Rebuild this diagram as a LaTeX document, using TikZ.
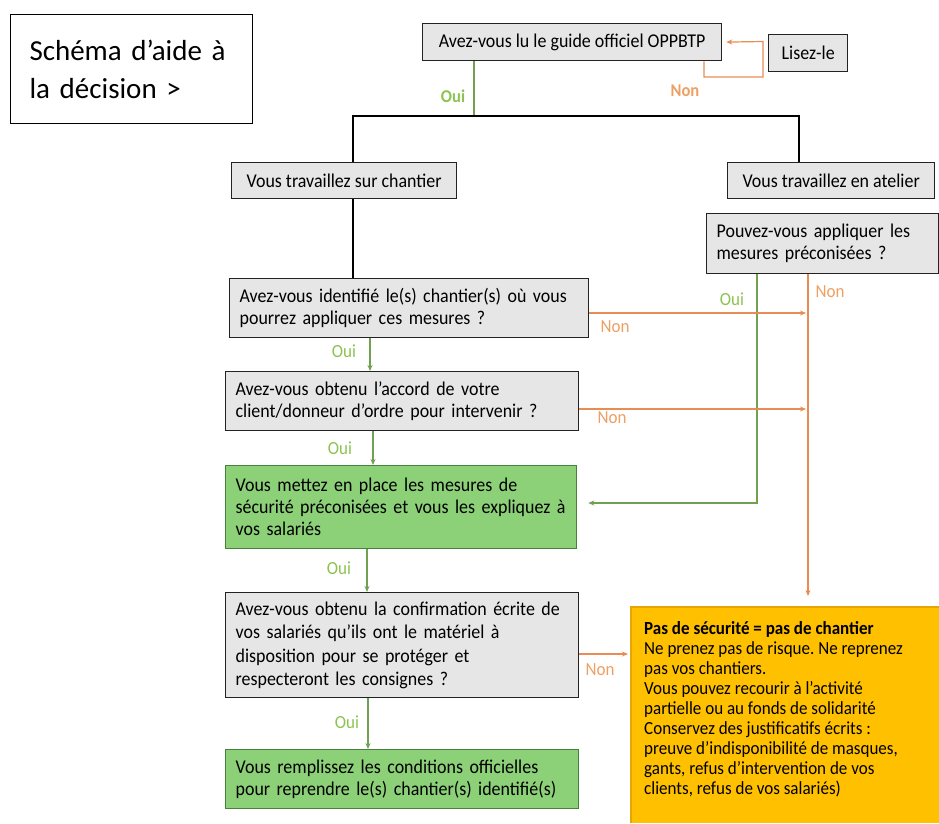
\documentclass[tikz,border=0pt]{standalone}
\usepackage{fontspec}
\setmainfont{Carlito}[FakeStretch=0.92]
\newfontfamily\titlefont{Carlito}
\usetikzlibrary{arrows.meta}
\definecolor{grayfill}{RGB}{231,230,230}
\definecolor{boxline}{RGB}{35,35,35}
\definecolor{greenfill}{RGB}{140,208,120}
\definecolor{greenline}{RGB}{70,130,60}
\definecolor{orangefill}{RGB}{255,192,0}
\definecolor{orangeborder}{RGB}{230,165,0}
\definecolor{ouicol}{RGB}{140,195,80}
\definecolor{noncol}{RGB}{238,160,100}
\definecolor{gconn}{RGB}{112,160,80}
\definecolor{oconn}{RGB}{232,140,85}
\begin{document}
\frenchspacing
\begin{tikzpicture}[x=1pt,y=-1pt,
  bx/.style={draw=boxline, fill=grayfill, line width=1.3pt, anchor=north west, align=left, inner xsep=10pt, inner ysep=0pt, font=\fontsize{19.5}{22}\selectfont},
  gbx/.style={bx, fill=greenfill, draw=greenline},
  gc/.style={draw=gconn, line width=1.2pt},
  gca/.style={gc, -{Stealth[length=6pt,width=5pt]}},
  oc/.style={draw=oconn, line width=1.2pt},
  oca/.style={oc, -{Stealth[length=6pt,width=5pt]}},
  blk/.style={draw=black, line width=1.3pt},
  oui/.style={text=ouicol, font=\fontsize{18.5}{20}\selectfont},
  non/.style={text=noncol, font=\fontsize{18.5}{20}\selectfont},
  ouib/.style={text=ouicol, font=\fontsize{18}{20}\selectfont\bfseries},
  nonb/.style={text=noncol, font=\fontsize{18}{20}\selectfont\bfseries},
]
\fill[white] (0,0) rectangle (939,823);
\useasboundingbox (0,0) rectangle (939,823);

% boxes
\node[bx, fill=white, draw=black, line width=1pt, inner xsep=19pt, minimum width=242pt, minimum height=109pt, text width=204pt, font=\titlefont\fontsize{29}{38}\selectfont] (title) at (10,14) {Schéma d’aide à\\la décision >};
\node[bx, align=center, minimum width=299pt, minimum height=37pt] (top) at (422,23) {Avez-vous lu le guide officiel OPPBTP};
\node[bx, align=center, minimum width=79pt, minimum height=37pt] (lisez) at (768,34) {Lisez-le};
\node[bx, align=center, minimum width=225pt, minimum height=36pt] (chantier) at (231,162) {Vous travaillez sur chantier};
\node[bx, align=center, minimum width=207pt, minimum height=36pt] (atelier) at (727,162) {Vous travaillez en atelier};
\node[bx, minimum width=232pt, minimum height=60pt, text width=212pt] (pouvez) at (706,213) {Pouvez-vous appliquer les\\mesures préconisées ?};
\node[bx, minimum width=359pt, minimum height=59pt, text width=339pt] (q1) at (229,278) {Avez-vous identifié le(s) chantier(s) où vous\\pourrez appliquer ces mesures ?};
\node[bx, minimum width=353pt, minimum height=59pt, text width=333pt] (q2) at (225,371) {Avez-vous obtenu l’accord de votre\\client/donneur d’ordre pour intervenir ?};
\node[gbx, minimum width=351pt, minimum height=83pt, text width=331pt] (g1) at (225,465) {Vous mettez en place les mesures de\\sécurité préconisées et vous les expliquez à\\vos salariés};
\node[bx, minimum width=353pt, minimum height=105pt, text width=333pt, font=\fontsize{19.5}{23.5}\selectfont] (q3) at (225,592) {Avez-vous obtenu la confirmation écrite de\\vos salariés qu’ils ont le matériel à\\disposition pour se protéger et\\respecteront les consignes ?};
\node[gbx, minimum width=353pt, minimum height=59pt, text width=333pt] (g2) at (225,749) {Vous remplissez les conditions officielles\\pour reprendre le(s) chantier(s) identifié(s)};
\node[anchor=north west, fill=orangefill, minimum width=308pt, minimum height=216pt, inner xsep=13pt, inner ysep=0pt, font=\fontsize{18.5}{19.9}\selectfont] (orng) at (631,607) {\raisebox{6pt}[\height][\depth]{\parbox{282pt}{\raggedright\textbf{Pas de sécurité = pas de chantier}\\Ne prenez pas de risque. Ne reprenez\\pas vos chantiers.\\Vous pouvez recourir à l’activité\\partielle ou au fonds de solidarité\\Conservez des justificatifs écrits :\\preuve d’indisponibilité de masques,\\gants, refus d’intervention de vos\\clients, refus de vos salariés)}}};
\draw[orangeborder, line width=1.3pt] (orng.south west) -- (orng.north west) -- (orng.north east);

% connectors
\coordinate (hl) at (353,116);
\coordinate (hr) at (799,116);
\coordinate (oj) at (474,116);
\draw[gc] (top.south -| oj) -- (oj);
\draw[blk] (chantier.north -| hl) -- (hl) -- (hr) -- (atelier.north -| hr);
\draw[blk] (chantier.south -| hl) -- (q1.north -| hl);

\coordinate (la) at (704,77);
\coordinate (lb) at (763,41.5);
\draw[oca, shorten >=4pt] (top.south -| la) -- (la) -| (lb) -- (top.east);

\coordinate (c1) at (370,0);
\coordinate (c2) at (373,0);
\coordinate (c3) at (367,0);
\coordinate (c4) at (368,0);
\draw[gca] (q1.south -| c1) -- (q2.north -| c1);
\draw[gca] (q2.south -| c2) -- (g1.north -| c2);
\draw[gca] (g1.south -| c3) -- (q3.north -| c3);
\draw[gca] (q3.south -| c4) -- (g2.north -| c4);

\coordinate (ov) at (808,0);
\coordinate (gv) at (757,503);
\draw[gca, shorten >=11pt] (pouvez.south -| gv) -- (gv) -- (g1.east |- gv);
\draw[oca, shorten >=11pt] (pouvez.south -| ov) -- (orng.north -| ov);

\coordinate (n1) at (0,313);
\coordinate (n2) at (0,409);
\coordinate (n3) at (0,654);
\draw[oca, shorten >=2pt] (q1.east |- n1) -- (ov |- n1);
\draw[oca, shorten >=2pt] (q2.east |- n2) -- (ov |- n2);
\draw[oca, shorten >=3pt] (q3.east |- n3) -- (orng.west |- n3);

% labels
\node[ouib] (l0) at (453,96) {Oui};
\node[nonb] (l1) at (685,91) {Non};
\node[oui] (l2) at (732,299) {Oui};
\node[non] (l3) at (830,292) {Non};
\node[non] (l4) at (615,327) {Non};
\node[oui] (l5) at (344,351) {Oui};
\node[non] (l6) at (612,418) {Non};
\node[oui] (l7) at (340,448) {Oui};
\node[oui] (l8) at (339,568) {Oui};
\node[non] (l9) at (600,670) {Non};
\node[oui] (l10) at (347,722) {Oui};
\end{tikzpicture}
\end{document}
